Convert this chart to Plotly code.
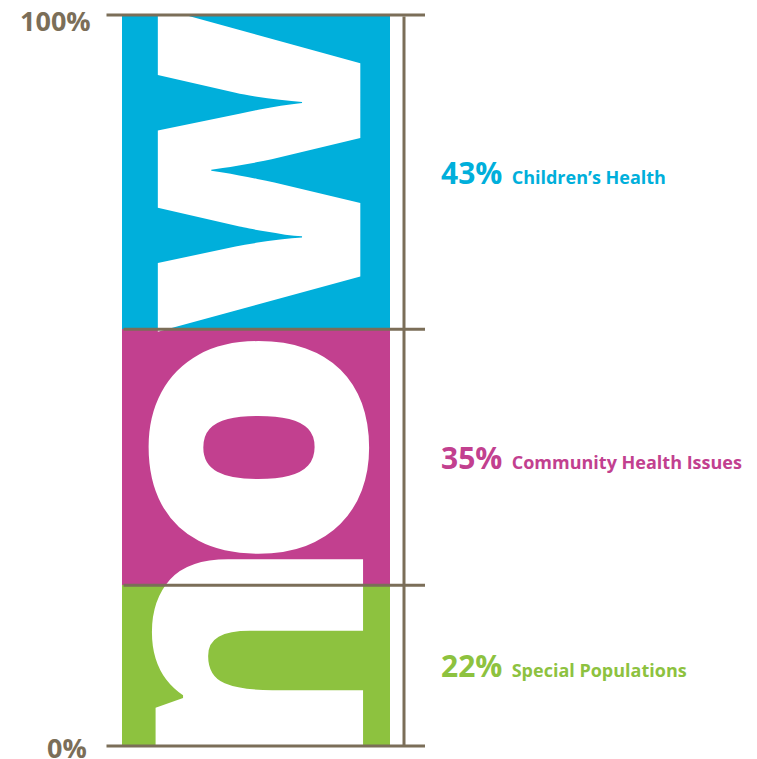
import plotly.graph_objects as go

# Data
categories = ["Special Populations", "Community Health Issues", "Children’s Health"]
values = [22, 35, 43]
colors = ["#8dc23f", "#c2408f", "#00afdb"]
letters = ["n", "o", "w"]
tick_labels = ["0%", "100%"]

LINE = "#7b6e58"
BAR_X = 256
BAR_W = 268

fig = go.Figure()
bases = []
b = 0
for cat, v, c in zip(categories, values, colors):
    bases.append(b)
    fig.add_trace(go.Bar(x=[BAR_X], y=[v], width=[BAR_W], name=cat,
                         marker=dict(color=c, line=dict(width=0)),
                         hoverinfo="skip"))
    b += v

annotations = []
# big white letters, rotated
letter_offsets = [0.6, 1.3, 0.3]
letter_sizes = [375, 385, 366]
for L, base, v, off, sz in zip(letters, bases, values, letter_offsets, letter_sizes):
    annotations.append(dict(
        x=260 - 0.114 * sz, y=base + v / 2 + off, xref="x", yref="y", text=L,
        showarrow=False, textangle=-90,
        font=dict(family="Open Sans", size=sz, color="white", weight=800),
        xanchor="center", yanchor="middle"))

# lines (drawn as arrow annotations so they sit above the letters)
def hline(y, x0, x1):
    return dict(x=x1, y=y, ax=x0, ay=y, xref="x", yref="y", axref="x", ayref="y",
                text="", showarrow=True, arrowhead=0, arrowwidth=3,
                arrowcolor=LINE, standoff=0, startstandoff=0)

annotations.append(hline(100, 105, 425))
annotations.append(hline(0, 105, 425))
for base in bases[1:]:
    annotations.append(hline(base, 122, 425))
annotations.append(dict(x=404, y=0, ax=404, ay=100, xref="x", yref="y", axref="x", ayref="y",
                        text="", showarrow=True, arrowhead=0, arrowwidth=3,
                        arrowcolor=LINE, standoff=0, startstandoff=0))

# labels on the right
for cat, base, v, c in zip(categories, bases, values, colors):
    annotations.append(dict(
        x=439, y=base + v / 2, xref="x", yref="y",
        text=f"<span style='font-size:30px'>{v}%</span>&nbsp; {cat}",
        showarrow=False, xanchor="left", yanchor="middle",
        font=dict(family="Open Sans", size=18, color=c, weight=700)))

# tick labels
annotations.append(dict(x=93, y=100, yshift=-5, xref="x", yref="y", text=tick_labels[1],
                        showarrow=False, xanchor="right", yanchor="middle",
                        font=dict(family="Open Sans", size=27, color=LINE, weight=700)))
annotations.append(dict(x=89, y=0, yshift=-1, xref="x", yref="y", text=tick_labels[0],
                        showarrow=False, xanchor="right", yanchor="middle",
                        font=dict(family="Open Sans", size=27, color=LINE, weight=700)))

fig.update_layout(
    width=757, height=759,
    margin=dict(l=0, r=0, t=15, b=13),
    barmode="stack", bargap=0,
    showlegend=False,
    plot_bgcolor="white", paper_bgcolor="white",
    xaxis=dict(range=[0, 757], visible=False, fixedrange=True),
    yaxis=dict(range=[0, 100], visible=False, fixedrange=True),
    annotations=annotations,
)

fig.write_html("out.html", config={"displayModeBar": False},
               post_script="document.body.style.margin='0';document.body.style.overflow='hidden';")
